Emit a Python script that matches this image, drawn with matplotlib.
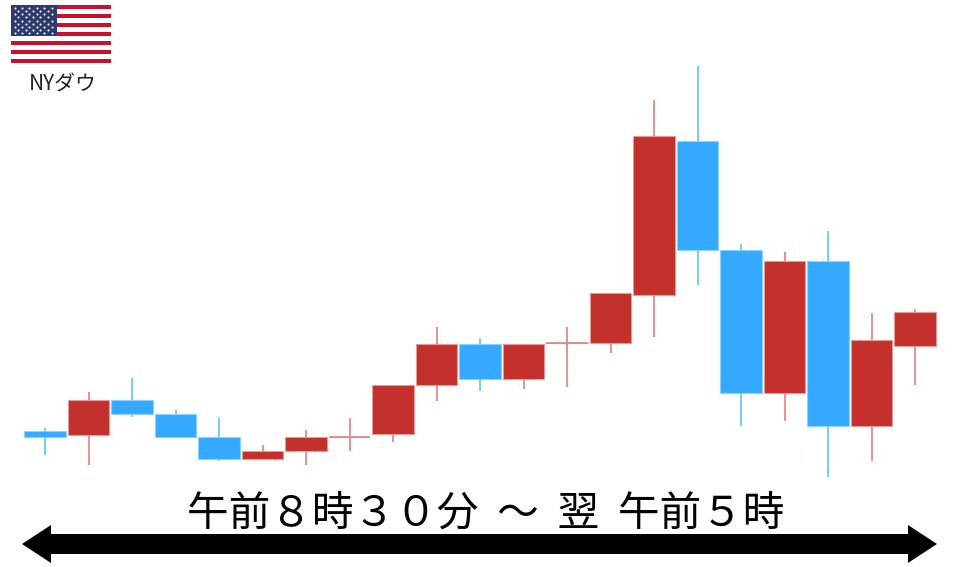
import numpy as np
import matplotlib
matplotlib.use("Agg")
import matplotlib.pyplot as plt

plt.rcParams['font.family'] = ['Noto Sans CJK JP', 'DejaVu Sans']

# values, price scale is just picture height (0-567)
opens = [136, 132, 167, 153, 130, 108, 116, 130, 133, 182, 223, 188, 224, 224, 272, 426, 317, 174, 306, 141, 221]
closes = [130, 167, 153, 130, 108, 116, 130, 130, 182, 223, 188, 223, 224, 274, 431, 317, 174, 306, 141, 227, 255]
highs = [139, 175, 189, 157, 149, 122, 137, 149, 182, 240, 229, 223, 240, 274, 467, 501, 323, 315, 336, 254, 258]
lows = [112, 102, 150, 129, 106, 108, 102, 116, 125, 166, 176, 178, 180, 214, 230, 282, 141, 146, 90, 106, 182]

RED = '#C4302B'
BLUE = '#35A9FF'
RED_WICK = '#E08A88'
BLUE_WICK = '#6CC5FF'
RED_EDGE = '#E59A97'
BLUE_EDGE = '#8AD2FF'

fig = plt.figure(figsize=(9.6, 5.67), dpi=100)
ax = fig.add_axes([0, 0, 1, 1])

x = np.arange(len(opens))
o = np.array(opens)
c = np.array(closes)
up = c >= o
# candle spacing 43.5px, first one centered at 45px
ax.set_xlim(-45 / 43.5, (960 - 45) / 43.5)
ax.set_ylim(0, 567)
ax.axis('off')

wick_colors = [RED_WICK if u else BLUE_WICK for u in up]
ax.vlines(x, lows, highs, colors=wick_colors, lw=1.3, zorder=1)
ax.bar(x[up], (c - o)[up], bottom=o[up], width=0.95, color=RED, edgecolor=RED_EDGE, lw=0.8, zorder=2)
ax.bar(x[~up], (c - o)[~up], bottom=o[~up], width=0.95, color=BLUE, edgecolor=BLUE_EDGE, lw=0.8, zorder=2)
# doji candles have no body, only a thin bar
doji = c == o
ax.hlines(o[doji], x[doji] - 0.475, x[doji] + 0.475, colors=RED_WICK, lw=1.3, zorder=2)

# overlay in pixel coords for the annotation
over = fig.add_axes([0, 0, 1, 1])
over.set_xlim(0, 960)
over.set_ylim(567, 0)
over.axis('off')
over.patch.set_alpha(0)

over.text(486, 514, '午前８時３０分  ～  翌  午前５時', fontsize=30, ha='center', va='center', color='black')
over.text(63, 85, 'NYダウ', fontsize=15, ha='center', va='center', color='#222222')

over.arrow(480, 544, 457, 0, width=20, head_width=38, head_length=29, length_includes_head=True, color='black', lw=0)
over.arrow(480, 544, -458, 0, width=20, head_width=38, head_length=29, length_includes_head=True, color='black', lw=0)

# flag
flag = fig.add_axes([11 / 960, 1 - 63 / 567, 100 / 960, 58 / 567])
flag.set_xlim(0, 1)
flag.set_ylim(13, 0)
flag.axis('off')
for s in range(13):
    flag.barh(s + 0.5, 1, height=1, left=0, color='#C8102E' if s % 2 == 0 else 'white')
flag.barh(3.5, 0.455, height=7, left=0, color='#2E3A6E')
for row in range(9):
    n = 6 if row % 2 == 0 else 5
    off = 0.035 if row % 2 == 0 else 0.072
    flag.scatter(off + np.arange(n) * 0.074, 0.6 + row * 0.72 * np.ones(n), s=2.2, c='white', lw=0)

fig.savefig('out.png', dpi=100)
